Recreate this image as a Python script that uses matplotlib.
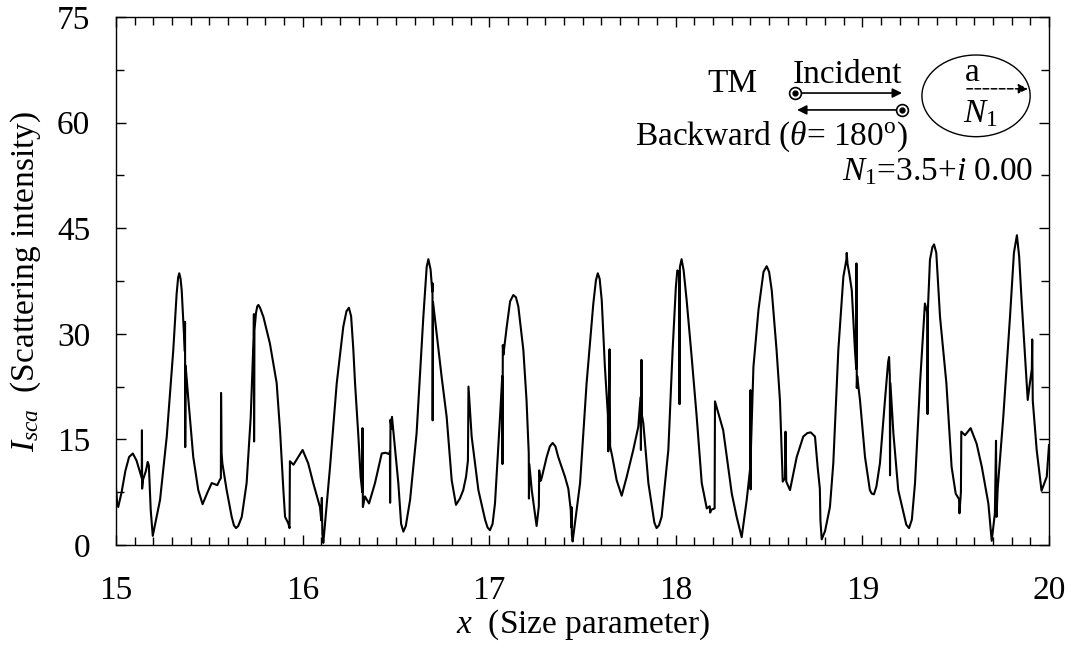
import matplotlib
matplotlib.use("Agg")
import matplotlib.pyplot as plt
from matplotlib.patches import Ellipse
from matplotlib.ticker import MultipleLocator

plt.rcParams['font.family'] = ['Liberation Serif', 'DejaVu Serif']
plt.rcParams['mathtext.fontset'] = 'custom'
plt.rcParams['mathtext.rm'] = 'Liberation Serif'
plt.rcParams['mathtext.it'] = 'Liberation Serif:italic'
plt.rcParams['mathtext.bf'] = 'Liberation Serif:bold'

# ---- data ----
x_size = [
    15.000, 15.006, 15.012, 15.030, 15.050, 15.070, 15.090, 15.110, 15.130, 15.138,
    15.139, 15.140, 15.145, 15.160, 15.170, 15.176, 15.186, 15.197, 15.210, 15.236,
    15.272, 15.307, 15.325, 15.333, 15.339, 15.346, 15.352, 15.364, 15.369, 15.370,
    15.371, 15.373, 15.388, 15.414, 15.441, 15.464, 15.489, 15.513, 15.543, 15.555,
    15.562, 15.563, 15.566, 15.570, 15.593, 15.620, 15.632, 15.643, 15.655, 15.674,
    15.700, 15.722,
    15.733, 15.738, 15.739, 15.740, 15.742, 15.750, 15.757, 15.763, 15.772, 15.790,
    15.825, 15.861, 15.879, 15.897, 15.906, 15.923, 15.930, 15.932, 15.951, 15.977,
    16.000, 16.030, 16.057, 16.093, 16.100, 16.103, 16.106, 16.111, 16.147, 16.183,
    16.218, 16.235, 16.248, 16.260, 16.272, 16.281, 16.299, 16.311, 16.320, 16.321,
    16.323, 16.334, 16.356, 16.388, 16.424, 16.445, 16.465, 16.468, 16.469, 16.471,
    16.476, 16.479, 16.513, 16.528, 16.540, 16.553, 16.576, 16.611, 16.647, 16.665,
    16.674, 16.686,
    16.695, 16.696, 16.697, 16.699, 16.718, 16.745, 16.772, 16.799, 16.822, 16.843,
    16.861, 16.876, 16.886, 16.889, 16.906, 16.942, 16.978, 16.991, 17.004, 17.018,
    17.031, 17.058,
    17.070, 17.071, 17.073, 17.076, 17.094, 17.112, 17.129, 17.143, 17.156, 17.183,
    17.200, 17.212, 17.213, 17.215, 17.228, 17.254, 17.266, 17.268, 17.275, 17.281,
    17.308, 17.325, 17.340, 17.355, 17.370, 17.406, 17.424, 17.437, 17.440, 17.441,
    17.443, 17.447, 17.487, 17.522, 17.558, 17.572, 17.582, 17.592, 17.603, 17.620,
    17.636, 17.638, 17.645, 17.648, 17.660, 17.683, 17.710, 17.737, 17.772, 17.799,
    17.811, 17.813, 17.816, 17.818, 17.826, 17.853, 17.885, 17.897, 17.910, 17.924,
    17.960, 17.983,
    18.000, 18.008, 18.018, 18.020, 18.022, 18.031, 18.042, 18.058, 18.085, 18.112,
    18.139, 18.166, 18.182, 18.184, 18.190, 18.208, 18.210, 18.254, 18.300, 18.326,
    18.353, 18.380, 18.399, 18.400, 18.401, 18.403, 18.416, 18.443, 18.470, 18.487,
    18.500, 18.514, 18.540, 18.558, 18.573, 18.585, 18.588, 18.592, 18.612, 18.648,
    18.683, 18.705, 18.723, 18.746, 18.760, 18.772, 18.775, 18.782, 18.800, 18.826,
    18.844, 18.871, 18.898, 18.914, 18.916, 18.920, 18.930, 18.943, 18.960, 18.967,
    18.968, 18.970, 18.972, 18.987, 19.014, 19.040, 19.050, 19.062, 19.075, 19.094,
    19.121, 19.138,
    19.143, 19.147, 19.148, 19.150, 19.166, 19.192, 19.235, 19.250, 19.265, 19.282,
    19.309, 19.335,
    19.348, 19.349, 19.351, 19.362, 19.375, 19.384, 19.396, 19.416, 19.450, 19.478,
    19.500, 19.518, 19.520, 19.528, 19.530, 19.550, 19.580, 19.612, 19.640, 19.675,
    19.693, 19.710, 19.716, 19.719, 19.725, 19.755, 19.791, 19.812, 19.828, 19.840,
    19.853, 19.880, 19.886, 19.895, 19.908, 19.910, 19.913, 19.934, 19.960, 19.988,
    20.000,
]
I_sca = [
    8.1, 6.0, 5.4, 7.5, 10.5, 12.5, 13.0, 12.0, 10.2, 9.5,
    16.3, 8.0, 9.3, 10.5, 11.8, 11.3, 5.0, 1.3, 3.0, 6.4,
    15.4, 27.7, 35.7, 38.0, 38.6, 37.8, 36.2, 30.1, 27.5, 31.7,
    13.9, 25.5, 20.6, 12.5, 7.8, 5.8, 7.4, 8.8, 8.5, 9.2,
    9.5, 21.6, 13.0, 11.6, 7.8, 4.0, 2.8, 2.4, 2.7, 4.0,
    8.8, 18.2,
    26.3, 29.5, 32.8, 14.7, 30.5, 32.9, 33.9, 34.1, 33.7, 32.4,
    28.6, 23.0, 16.3, 7.8, 4.0, 3.1, 2.4, 11.9, 11.4, 12.5,
    13.5, 11.6, 8.8, 5.4, 3.5, 6.7, 1.5, 0.3, 11.1, 23.0,
    31.0, 33.2, 33.7, 32.5, 27.7, 23.0, 15.4, 9.7, 7.5, 16.6,
    5.4, 6.9, 5.9, 8.8, 13.0, 13.1, 12.9, 13.3, 6.0, 17.8,
    16.5, 18.2, 8.8, 3.0, 1.9, 2.7, 6.4, 15.9, 32.4, 39.5,
    40.6, 39.1,
    36.0, 37.2, 17.7, 34.5, 30.1, 23.9, 18.2, 9.2, 5.7, 6.6,
    7.8, 9.7, 12.0, 22.5, 15.4, 7.8, 3.6, 2.5, 2.1, 3.0,
    5.9, 18.2,
    24.0, 11.5, 28.4, 27.0, 31.0, 34.6, 35.5, 35.2, 33.9, 27.7,
    20.6, 13.0, 6.6, 11.5, 7.8, 2.7, 5.5, 10.6, 9.1, 9.5,
    12.5, 14.0, 14.5, 14.0, 12.5, 9.7, 8.0, 5.0, 2.5, 5.4,
    1.5, 0.5, 8.8, 23.0, 34.3, 37.6, 38.6, 37.8, 34.8, 25.3,
    18.5, 13.3, 27.8, 14.0, 12.5, 9.2, 7.0, 9.7, 13.5, 16.8,
    21.0, 13.5, 26.3, 18.5, 17.3, 8.8, 3.2, 2.4, 2.8, 4.0,
    13.5, 27.7,
    36.5, 39.0, 38.8, 20.0, 39.5, 40.6, 39.0, 34.8, 26.7, 18.2,
    8.8, 5.2, 5.5, 4.6, 5.0, 5.2, 20.4, 16.3, 7.3, 4.0,
    1.1, 6.4, 11.0, 22.0, 7.9, 14.0, 25.3, 33.4, 38.8, 39.6,
    38.8, 36.2, 27.7, 20.6, 9.0, 9.5, 16.1, 9.0, 7.8, 12.5,
    15.4, 15.9, 16.0, 15.4, 11.1, 8.0, 3.5, 0.8, 2.0, 5.4,
    11.6, 27.7, 38.1, 40.5, 41.5, 40.0, 38.5, 36.2, 27.7, 25.0,
    40.0, 22.3, 24.0, 20.6, 12.5, 7.8, 7.3, 7.2, 8.3, 11.6,
    20.6, 26.0,
    26.7, 24.0, 9.9, 23.0, 15.9, 7.8, 2.9, 2.4, 3.6, 8.8,
    23.0, 34.3,
    33.0, 18.6, 33.5, 40.5, 42.3, 42.7, 41.5, 32.4, 23.0, 11.1,
    7.3, 6.5, 4.5, 7.5, 16.1, 15.6, 16.6, 14.4, 11.1, 5.9,
    0.6, 4.5, 14.8, 4.0, 8.0, 18.2, 32.4, 41.5, 44.0, 41.0,
    34.8, 23.0, 20.6, 22.5, 25.0, 29.2, 20.5, 13.5, 7.7, 9.7,
    14.2,
]

x_ticks = [15, 16, 17, 18, 19, 20]
y_ticks = [0, 15, 30, 45, 60, 75]

FS = 24

fig = plt.figure(figsize=(10.77, 6.48), dpi=100)
ax = fig.add_axes([116 / 1077, 1 - 545 / 648, (1049 - 116) / 1077, (545 - 17) / 648])

ax.plot(x_size, I_sca, color='black', lw=1.5, solid_joinstyle='round')

ax.set_xlim(15, 20)
ax.set_ylim(0, 75)
ax.set_xticks(x_ticks)
ax.set_yticks(y_ticks)
ax.xaxis.set_minor_locator(MultipleLocator(0.1))
ax.yaxis.set_minor_locator(MultipleLocator(7.5))
ax.tick_params(which='both', direction='in', top=True, right=True, width=1.0)
ax.tick_params(which='major', length=7.5, labelsize=FS)
ax.tick_params(axis='x', which='major', pad=22)
ax.tick_params(axis='y', which='major', pad=18.5)
ax.tick_params(which='minor', length=5.5)
for s in ax.spines.values():
    s.set_linewidth(1.0)

ax.set_xlabel(r'$x$  (Size parameter)', fontsize=FS, labelpad=1)
ax.set_ylabel(r'$I_{sca}$  (Scattering intensity)', fontsize=FS, labelpad=10)

# ---- inset annotation ----
ax.text(18.301, 64.35, 'TM', fontsize=FS, ha='center', va='baseline')
ax.text(18.920, 65.6, 'Incident', fontsize=FS, ha='center', va='baseline')
ax.annotate('', xy=(19.212, 64.2), xytext=(18.639, 64.2),
            arrowprops=dict(arrowstyle='-|>', lw=1.2, color='black',
                            mutation_scale=14, shrinkA=0, shrinkB=0))
ax.annotate('', xy=(18.650, 61.8), xytext=(19.212, 61.8),
            arrowprops=dict(arrowstyle='-|>', lw=1.2, color='black',
                            mutation_scale=14, shrinkA=0, shrinkB=0))
for (cx, cy) in [(18.639, 64.2), (19.212, 61.8)]:
    ax.plot([cx], [cy], marker='o', ms=8.5, mfc='white', mec='black', mew=1.2, zorder=5)
    ax.plot([cx], [cy], marker='o', ms=3.5, mfc='black', mec='black', zorder=6)

ax.text(19.244, 56.8, r'Backward ($\theta$= 180$^{\mathrm{o}}$)', fontsize=FS,
        ha='right', va='baseline')
ax.text(18.891, 51.85, r'$N_{\mathrm{1}}$=3.5+$i$ 0.00', fontsize=FS,
        ha='left', va='baseline')

ax.add_patch(Ellipse((19.609, 63.8), 0.58, 11.6, fill=False, ec='black', lw=1.0))
ax.text(19.587, 65.9, 'a', fontsize=FS, ha='center', va='baseline')
ax.annotate('', xy=(19.887, 64.8), xytext=(19.56, 64.8),
            arrowprops=dict(arrowstyle='-|>', lw=1.1, color='black', ls='--',
                            mutation_scale=14, shrinkA=0, shrinkB=0))
ax.text(19.63, 61.2, r'$N_{\mathrm{1}}$', fontsize=FS, ha='center', va='center')

fig.savefig('out.png', dpi=100)
